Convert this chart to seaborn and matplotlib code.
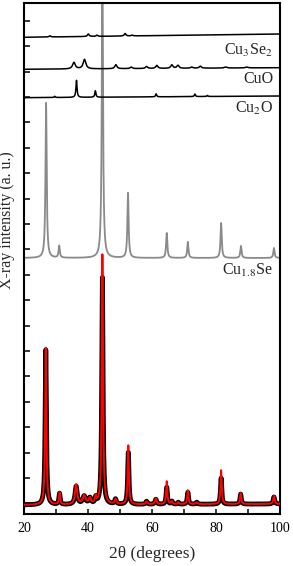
import numpy as np
import pandas as pd
import matplotlib
matplotlib.use("Agg")
import matplotlib.pyplot as plt
import seaborn as sns

# ---- data (intensities in arbitrary units) ----
TT_MIN, TT_MAX = 20, 100

# measured pattern (black) and fit (red)
EXP_POS   = [26.8, 31.1, 36.3, 38.8, 40.6, 42.4, 44.5, 48.6, 52.6, 58.3,
             61.2, 64.6, 66.2, 68.2, 71.2, 74.0, 81.6, 87.7, 98.1]
EXP_FWHM  = [0.45, 0.45, 0.8, 1.0, 0.8, 0.5, 0.45, 0.6, 0.45, 0.6,
             0.6, 0.45, 0.5, 0.5, 0.45, 0.6, 0.45, 0.45, 0.5]
FIT_INT   = [157, 12, 20, 9, 6, 7, 250, 5, 59, 3,
             6, 23, 3, 2, 14, 2, 34, 11, 8]
OBS_INT   = [155, 11, 18, 8, 6, 6, 227, 5, 52, 3,
             5, 17, 3, 2, 12, 2, 26, 10, 7]
EXP_BASE  = (0, 1)

# Cu1.8Se reference (gray)
CU18SE_POS  = [26.9, 31.0, 44.5, 52.5, 64.6, 71.2, 81.6, 87.8, 98.1]
CU18SE_INT  = [155, 12, 300, 65, 25, 16, 35, 12, 10]
CU18SE_BASE = (247, 247)

# Cu2O reference
CU2O_POS  = [29.6, 36.4, 42.3, 61.3, 73.4, 77.3]
CU2O_INT  = [1.2, 17, 6.5, 3, 2.5, 1]
CU2O_BASE = (407.3, 409)

# CuO reference
CUO_POS  = [35.6, 38.9, 48.7, 53.5, 58.3, 61.5, 66.2, 68.1, 72.4, 75.1, 83.0, 89.6]
CUO_INT  = [6.5, 9.5, 4, 1.5, 2, 3, 3.5, 3, 1.2, 2, 1, 0.8]
CUO_BASE = (435.7, 437.3)

# Cu3Se2 reference
CU3SE2_POS  = [28.1, 40.1, 42.8, 51.6, 53.8]
CU3SE2_INT  = [1.2, 2.5, 1.2, 2.5, 0.8]
CU3SE2_BASE = (467.7, 471)

LABELS = ["Cu$_3$Se$_2$", "CuO", "Cu$_2$O", "Cu$_{1.8}$Se"]
LABEL_Y = [450, 421.7, 391.7, 230]

tt = np.linspace(TT_MIN, TT_MAX, 8001)


def pattern(pos, inten, base, fwhm=0.45):
    fw = np.broadcast_to(np.asarray(fwhm, float), (len(pos),))
    y = np.linspace(base[0], base[1], tt.size)
    for p, h, w in zip(pos, inten, fw):
        g = (w / 2) ** 2
        y = y + h * g / ((tt - p) ** 2 + g)
    return y


sns.set_theme(style="ticks")
plt.rcParams["font.family"] = ["Liberation Serif", "DejaVu Serif"]
plt.rcParams["mathtext.fontset"] = "stix"

fig = plt.figure(figsize=(2.93, 5.66), dpi=100)
ax = fig.add_axes([0.0819, 0.0919, 0.8737, 0.9028])

curves = [
    ("obs",    pattern(EXP_POS, OBS_INT, EXP_BASE, EXP_FWHM), "black", 3.5, 2),
    ("fit",    pattern(EXP_POS, FIT_INT, EXP_BASE, EXP_FWHM), "#ff0000", 1.4, 3),
    ("cu18se", pattern(CU18SE_POS, CU18SE_INT, CU18SE_BASE, 0.45), "#8a8a8a", 1.3, 1),
    ("cu2o",   pattern(CU2O_POS, CU2O_INT, CU2O_BASE, 0.4), "black", 1.1, 4),
    ("cuo",    pattern(CUO_POS, CUO_INT, CUO_BASE,
                       [1.0, 1.0, 0.8, 0.8, 0.8, 0.8, 0.8, 0.8, 0.8, 0.8, 1.0, 1.0]),
     "black", 1.1, 4),
    ("cu3se2", pattern(CU3SE2_POS, CU3SE2_INT, CU3SE2_BASE, 0.6), "black", 1.1, 4),
]
for name, y, col, lw, z in curves:
    df = pd.DataFrame({"tt": tt, "I": y})
    sns.lineplot(data=df, x="tt", y="I", ax=ax, color=col, linewidth=lw,
                 estimator=None, sort=False, zorder=z)

for lbl, yl in zip(LABELS, LABEL_Y):
    ax.text(97.9, yl, lbl, ha="right", va="baseline", fontsize=11.5)

ax.set_xlim(TT_MIN, TT_MAX)
ax.set_ylim(-9, 502)
ax.set_xticks([20, 40, 60, 80, 100])
ax.set_xticks([30, 50, 70, 90], minor=True)
ax.set_yticks(np.arange(1.6, 500, 25.4))
ax.set_yticklabels([])
ax.tick_params(axis="both", which="both", direction="in", width=1.1,
               top=False, right=False, colors="black")
ax.tick_params(axis="x", which="both", length=3.5, labelsize=10, pad=6)
ax.tick_params(axis="y", length=4.5)
for s in ax.spines.values():
    s.set_linewidth(1.5)
    s.set_color("black")

ax.set_xlabel("2θ (degrees)", fontsize=12.5)
ax.set_ylabel("X-ray intensity (a. u.)", fontsize=11.5)
ax.xaxis.set_label_coords(0.5, -0.062)
ax.yaxis.set_label_coords(-0.035, 0.575)

fig.savefig("out.png", dpi=100)
